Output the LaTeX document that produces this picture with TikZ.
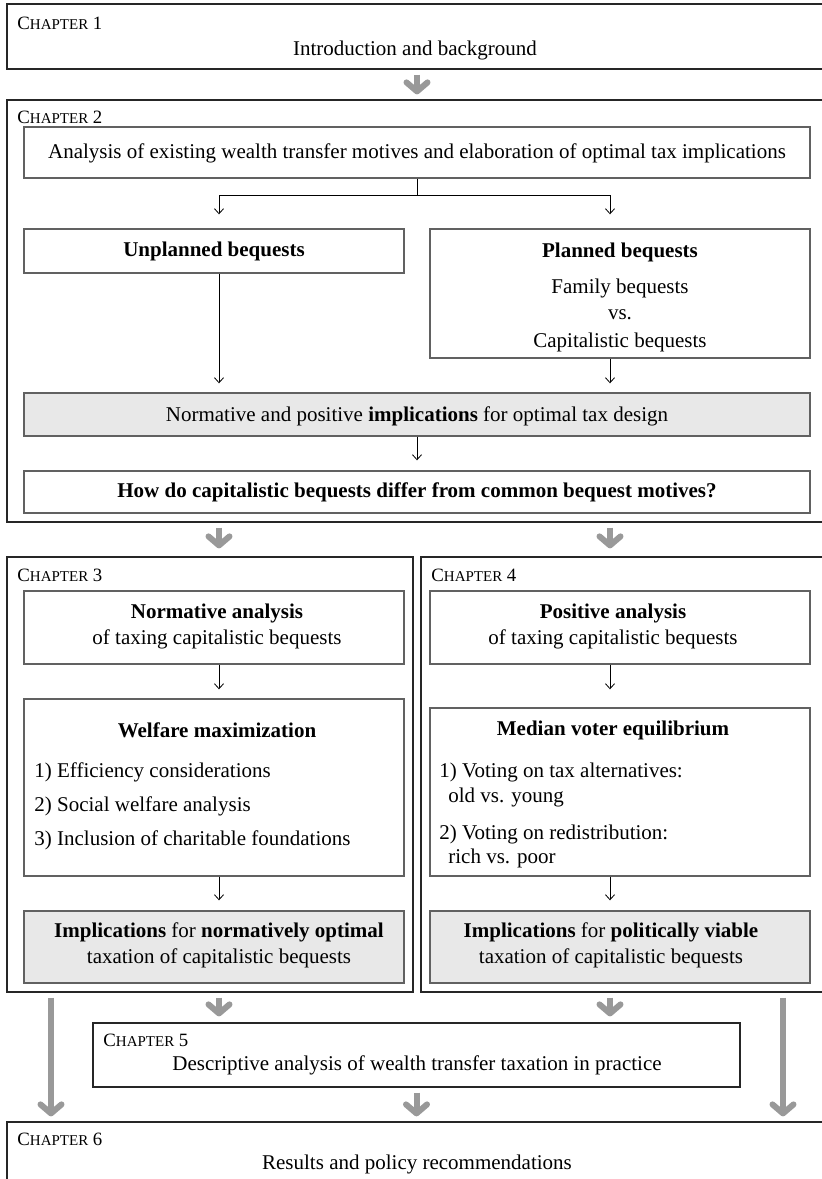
\documentclass[tikz,border=0pt]{standalone}
\usepackage{fontspec}
\setmainfont{Liberation Serif}
\usetikzlibrary{arrows.meta,fit}
\newcommand{\chapl}[1]{{\fontsize{9.4}{10}\selectfont C{\fontsize{7.5}{8}\selectfont HAPTER}~#1}}
\begin{document}
\begin{tikzpicture}[x=0.5pt,y=-0.5pt,
  obox/.style={draw=black!85, line width=0.6pt, inner sep=0pt},
  ibox/.style={draw=black!62, line width=0.7pt, inner sep=0pt},
  gbox/.style={ibox, fill=black!9},
  txt/.style={inner sep=0pt, font=\fontsize{10.5}{12}\selectfont},
  lab/.style={inner sep=0pt, anchor=west},
  item/.style={txt, anchor=west},
  tarr/.style={draw=black, line width=0.4pt, -{Straight Barb[length=2.5pt,width=4.5pt]}},
  garr/.style={draw=black!40, line width=3pt, -{Straight Barb[length=4.5pt,width=10.5pt,round]}},
]
\useasboundingbox (0,0) rectangle (822,1179);
\clip (0,0) rectangle (822,1179);
\coordinate (cL) at (219,0);
\coordinate (cR) at (610,0);
\coordinate (cM) at (417,0);
\coordinate (cLL) at (51,0);
\coordinate (cRR) at (783,0);

% Chapter 1
\node[obox, fit={(7,4)(840,69)}] (ch1) {};
\node[lab] (ch1l) at (17,23) {\chapl{1}};
\node[txt] (ch1t) at (415,50) {Introduction and background};

% Chapter 2
\node[obox, fit={(7,100)(840,522)}] (ch2) {};
\node[lab] (ch2l) at (17,117) {\chapl{2}};
\node[ibox, fit={(24,127)(810,178)}] (ana) {};
\node[txt] (anat) at (417,153) {Analysis of existing wealth transfer motives and elaboration of optimal tax implications};
\node[ibox, fit={(24,229)(404,273)}] (unpl) {};
\node[txt] (unplt) at (214,251) {\textbf{Unplanned bequests}};
\node[ibox, fit={(430,229)(810,358)}] (plan) {};
\node[txt] (plant1) at (620,252) {\textbf{Planned bequests}};
\node[txt] (plant2) at (620,288) {Family bequests};
\node[txt] (plant3) at (620,315) {vs.};
\node[txt] (plant4) at (620,342) {Capitalistic bequests};
\node[gbox, fit={(24,393)(810,436)}] (gray) {};
\node[txt] (grayt) at (417,416) {Normative and positive \textbf{implications} for optimal tax design};
\node[ibox, fit={(24,471)(810,513)}] (how) {};
\node[txt] (howt) at (417,492) {\textbf{How do capitalistic bequests differ from common bequest motives?}};

\coordinate (fork) at (417,195);
\draw[line width=0.4pt] (ana.south) -- (fork);
\draw[tarr, shorten >=7pt] (fork) -| (unpl.north -| cL);
\draw[tarr, shorten >=7pt] (fork) -| (plan.north -| cR);
\draw[tarr, shorten >=4.5pt] (unpl.south -| cL) -- (gray.north -| cL);
\draw[tarr, shorten >=4.5pt] (plan.south -| cR) -- (gray.north -| cR);
\draw[tarr, shorten >=5pt] (gray.south) -- (how.north);

% Chapter 3 and 4
\node[obox, fit={(7,557)(413,992)}] (ch3) {};
\node[obox, fit={(421,557)(840,992)}] (ch4) {};
\node[lab] (ch3l) at (17,575) {\chapl{3}};
\node[lab] (ch4l) at (431,575) {\chapl{4}};

\node[ibox, fit={(24,591)(404,664)}] (norm) {};
\node[txt] (normt1) at (217,613) {\textbf{Normative analysis}};
\node[txt] (normt2) at (217,639) {of taxing capitalistic bequests};
\node[ibox, fit={(430,591)(810,664)}] (pos) {};
\node[txt] (post1) at (613,613) {\textbf{Positive analysis}};
\node[txt] (post2) at (613,639) {of taxing capitalistic bequests};

\node[ibox, fit={(24,699)(404,876)}] (wel) {};
\node[txt] (welt) at (217,730) {\textbf{Welfare maximization}};
\node[item] (wel1) at (34,772) {1) Efficiency considerations};
\node[item] (wel2) at (34,806) {2) Social welfare analysis};
\node[item] (wel3) at (34,840) {3) Inclusion of charitable foundations};

\node[ibox, fit={(430,708)(810,876)}] (med) {};
\node[txt] (medt) at (613,730) {\textbf{Median voter equilibrium}};
\node[item] (med1) at (439,772) {1) Voting on tax alternatives:};
\node[item] (med2) at (448,797) {old vs. young};
\node[item] (med3) at (439,834) {2) Voting on redistribution:};
\node[item] (med4) at (448,858) {rich vs. poor};

\node[gbox, fit={(24,911)(404,983)}] (impL) {};
\node[txt] (impLt1) at (219,932) {\textbf{Implications} for \textbf{normatively optimal}};
\node[txt] (impLt2) at (219,958) {taxation of capitalistic bequests};
\node[gbox, fit={(430,911)(810,983)}] (impR) {};
\node[txt] (impRt1) at (611,932) {\textbf{Implications} for \textbf{politically viable}};
\node[txt] (impRt2) at (611,958) {taxation of capitalistic bequests};

\draw[tarr, shorten >=4.5pt] (norm.south -| cL) -- (wel.north -| cL);
\draw[tarr, shorten >=9pt] (pos.south -| cR) -- (med.north -| cR);
\draw[tarr, shorten >=5pt] (wel.south -| cL) -- (impL.north -| cL);
\draw[tarr, shorten >=5pt] (med.south -| cR) -- (impR.north -| cR);

% Chapter 5 and 6
\node[obox, fit={(93,1023)(740,1087)}] (ch5) {};
\node[lab] (ch5l) at (103,1040) {\chapl{5}};
\node[txt] (ch5t) at (417,1065) {Descriptive analysis of wealth transfer taxation in practice};
\node[obox, fit={(7,1122)(840,1220)}] (ch6) {};
\node[lab] (ch6l) at (17,1139) {\chapl{6}};
\node[txt] (ch6t) at (417,1164) {Results and policy recommendations};

% gray chapter arrows
\draw[garr, shorten <=2.5pt, shorten >=2.5pt] (ch1.south -| cM) -- (ch2.north -| cM);
\draw[garr, shorten <=2.5pt, shorten >=4pt] (ch2.south -| cL) -- (ch3.north -| cL);
\draw[garr, shorten <=2.5pt, shorten >=4pt] (ch2.south -| cR) -- (ch4.north -| cR);
\draw[garr, shorten <=2.5pt, shorten >=3pt] (ch3.south -| cL) -- (ch5.north -| cL);
\draw[garr, shorten <=2.5pt, shorten >=3pt] (ch4.south -| cR) -- (ch5.north -| cR);
\draw[garr, shorten <=2.5pt, shorten >=2.5pt] (ch5.south) -- (ch6.north -| ch5.south);
\draw[garr, shorten <=2.5pt, shorten >=2.5pt] (ch3.south -| cLL) -- (ch6.north -| cLL);
\draw[garr, shorten <=2.5pt, shorten >=2.5pt] (ch4.south -| cRR) -- (ch6.north -| cRR);
\end{tikzpicture}
\end{document}
